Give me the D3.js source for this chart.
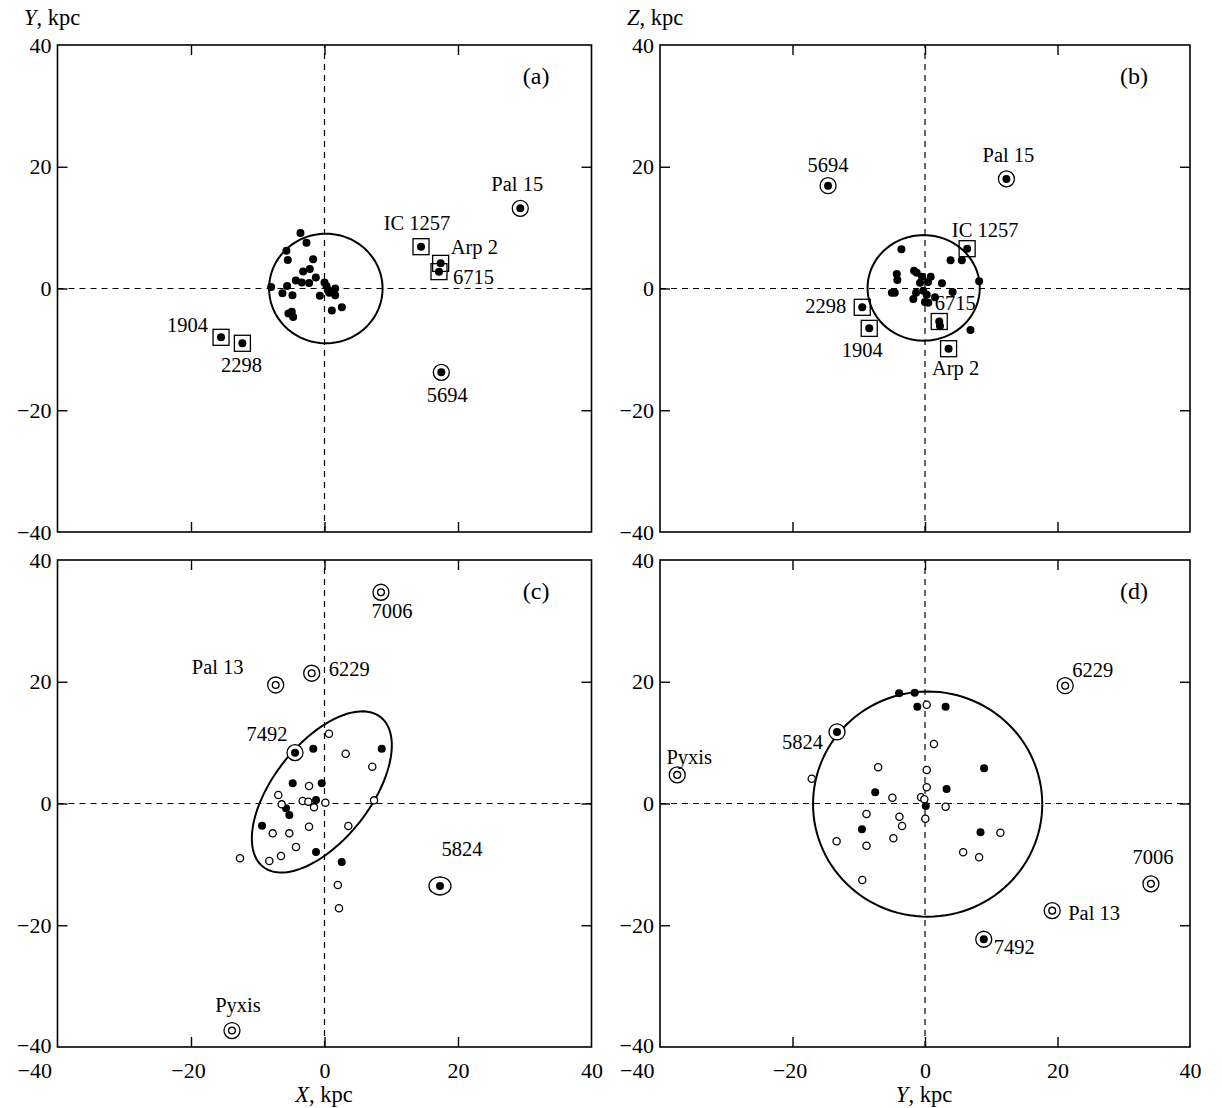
<!DOCTYPE html>
<html>
<head>
<meta charset="utf-8">
<script src="https://cdn.jsdelivr.net/npm/d3@7"></script>
<style>
  html, body { margin: 0; padding: 0; background: #fff; }
  svg { display: block; }
  text { font-family: "Liberation Serif", "Times New Roman", serif; fill: #000; }
</style>
</head>
<body>
<svg id="chart" width="1222" height="1108"></svg>
<script>
// ---------- data (kpc) ----------
const tickValues = [-40, -20, 0, 20, 40];

// (a) X–Y plane, first sample
const aFilled = [
  [-3.6, 9.1], [-2.7, 7.5], [-5.7, 6.2], [-5.5, 4.7], [-1.7, 4.8], [-3.2, 2.8],
  [-2.2, 3.2], [-1.3, 1.8], [-4.3, 1.3], [-3.4, 1.0], [-2.3, 0.9], [-5.6, 0.4],
  [-8.0, 0.25], [-6.3, -0.8], [-4.8, -1.1], [0.0, 1.0], [0.3, 0.4], [1.6, 0.0],
  [-0.7, -1.2], [0.7, -0.7], [1.6, -1.1], [1.1, -3.6], [2.6, -3.1], [-5.4, -4.1],
  [-4.9, -3.8], [-4.7, -4.7], [0.5, -0.25]
];
const aBoxed = [
  { name: "IC 1257", x: 14.46, y: 6.87 }, { name: "Arp 2", x: 17.4, y: 4.13 },
  { name: "6715", x: 17.15, y: 2.77 }, { name: "1904", x: -15.5, y: -8.02 },
  { name: "2298", x: -12.3, y: -9.0 }
];
const aRinged = [
  { name: "Pal 15", x: 29.33, y: 13.17 }, { name: "5694", x: 17.5, y: -13.77 }
];
const aOutline = { cx: 0.2, cy: 0.0, u: [8.5, 0], v: [0, 9.0] };

// (b) Y–Z plane, first sample
const bFilled = [
  [-3.56, 6.44], [3.86, 4.63], [5.56, 4.63], [8.17, 1.18], [-4.26, 2.38], [-4.17, 1.40],
  [-1.65, 2.92], [-1.25, 2.60], [-0.45, 1.94], [0.86, 1.94], [-0.75, 0.95], [0.45, 1.07],
  [2.56, 0.85], [-5.01, -0.69], [-4.56, -0.69], [-1.35, -0.69], [-0.26, -0.36], [-1.76, -1.72],
  [0.26, -1.02], [1.50, -1.45], [4.17, -0.57], [0.0, -2.22], [0.5, -2.33], [6.87, -6.82],
  [2.26, -6.16]
];
const bBoxed = [
  { name: "IC 1257", x: 6.36, y: 6.54 }, { name: "6715", x: 2.15, y: -5.42 },
  { name: "Arp 2", x: 3.56, y: -9.89 }, { name: "2298", x: -9.47, y: -3.09 },
  { name: "1904", x: -8.42, y: -6.55 }
];
const bRinged = [
  { name: "5694", x: -14.63, y: 16.89 }, { name: "Pal 15", x: 12.29, y: 18.0 }
];
const bOutline = { cx: -0.2, cy: 0.1, u: [8.47, 0], v: [0, 8.67] };

// (c) X–Y plane, second sample
const cFilled = [
  [-1.68, 9.0], [8.57, 9.0], [-4.76, 3.32], [-0.42, 3.32], [-1.27, 0.57],
  [-5.77, -0.79], [-5.27, -1.89], [-9.36, -3.65], [-1.27, -7.97], [2.58, -9.61]
];
const cOpen = [
  [0.67, 11.47], [3.17, 8.18], [7.16, 6.05], [-2.32, 2.87], [-6.92, 1.40], [-6.41, -0.14],
  [-3.27, 0.41], [-2.42, 0.30], [-1.57, -0.63], [0.13, 0.14], [7.42, 0.52], [-2.32, -3.81],
  [3.57, -3.70], [-7.76, -4.9], [-5.27, -4.9], [-4.27, -7.15], [-12.66, -9.0], [-6.52, -8.62],
  [-8.27, -9.45], [2.0, -13.4], [2.17, -17.2]
];
const cRingedFilled = [
  { name: "7492", x: -4.42, y: 8.35 }, { name: "5824", x: 17.3, y: -13.55 }
];
const cRingedOpen = [
  { name: "7006", x: 8.46, y: 34.7 }, { name: "6229", x: -1.92, y: 21.4 },
  { name: "Pal 13", x: -7.31, y: 19.47 }, { name: "Pyxis", x: -13.86, y: -37.3 }
];
const cOutline = { cx: -0.4, cy: 1.9, u: [8.8, 12.3], v: [5.7, -4.9] };

// (d) Y–Z plane, second sample
const dFilled = [
  [-3.91, 18.1], [-1.55, 18.2], [-1.16, 15.9], [3.11, 15.9], [8.92, 5.78],
  [3.26, 2.38], [-7.52, 1.84], [0.11, -0.41], [-9.52, -4.24], [8.38, -4.73]
];
const dOpen = [
  [0.26, 16.23], [1.35, 9.77], [-7.07, 5.95], [0.26, 5.5], [0.26, 2.66], [-17.1, 4.07],
  [-4.92, 0.95], [-0.6, 1.02], [-0.1, 0.69], [3.11, -0.53], [-8.83, -1.72], [-3.86, -2.17],
  [-3.46, -3.70], [0.05, -2.5], [-13.34, -6.21], [-8.83, -6.93], [-4.77, -5.72], [11.38, -4.8],
  [5.76, -8.02], [8.17, -8.84], [-9.47, -12.57]
];
const dRingedFilled = [
  { name: "5824", x: -13.28, y: 11.75 }, { name: "7492", x: 8.87, y: -22.3 }
];
const dRingedOpen = [
  { name: "6229", x: 21.16, y: 19.35 }, { name: "Pyxis", x: -37.4, y: 4.7 },
  { name: "7006", x: 34.1, y: -13.2 }, { name: "Pal 13", x: 19.2, y: -17.6 }
];
const dOutline = { cx: 0.4, cy: -0.1, u: [17.3, 0], v: [0, 18.5] };

// ---------- label placement (pixel offsets from the mark) ----------
const labelPlacement = {
  a: {
    "Pal 15": [-3, -24, "middle"], "IC 1257": [-4, -24, "middle"], "Arp 2": [10, -16, "start"],
    "6715": [14, 5, "start"], "5694": [6, 23, "middle"], "1904": [-13, -12, "end"],
    "2298": [-1, 22, "middle"]
  },
  b: {
    "5694": [0, -21, "middle"], "Pal 15": [2, -24, "middle"], "IC 1257": [18, -19, "middle"],
    "2298": [-16, -1, "end"], "1904": [-7, 22, "middle"], "6715": [16, -18, "middle"],
    "Arp 2": [7, 19, "middle"]
  },
  c: {
    "7006": [11, 19, "middle"], "6229": [17, -4, "start"], "Pal 13": [-58, -18, "middle"],
    "7492": [-28, -19, "middle"], "5824": [22, -37, "middle"], "Pyxis": [6, -26, "middle"]
  },
  d: {
    "6229": [7, -16, "start"], "5824": [-14, 10, "end"], "Pyxis": [12, -18, "middle"],
    "7006": [2, -27, "middle"], "Pal 13": [16, 2, "start"], "7492": [10, 8, "start"]
  }
};
const ringSize = { c: { "5824": [11, 9] } };

// ---------- layout ----------
const svg = d3.select("#chart");
const xLeft = d3.scaleLinear().domain([-40, 40]).range([57.5, 591.5]);
const xRight = d3.scaleLinear().domain([-40, 40]).range([660, 1190]);
const yTop = d3.scaleLinear().domain([-40, 40]).range([532, 45]);
const yBottom = d3.scaleLinear().domain([-40, 40]).range([1047, 560]);

const TICK_FONT = 22, TITLE_FONT = 22.5, LETTER_FONT = 24, NOTE_FONT = 20.5;

function drawPanel(id, x, y, opts) {
  const g = svg.append("g").attr("class", "panel-" + id);
  const [x0, x1] = x.range();
  const [y0, y1] = y.range(); // y0 bottom, y1 top

  // zero lines
  g.append("line").attr("x1", x0).attr("x2", x1).attr("y1", y(0)).attr("y2", y(0))
    .attr("stroke", "#000").attr("stroke-width", 1.2).attr("stroke-dasharray", "6,5");
  g.append("line").attr("x1", x(0)).attr("x2", x(0)).attr("y1", y0).attr("y2", y1)
    .attr("stroke", "#000").attr("stroke-width", 1.2).attr("stroke-dasharray", "6,5");

  // inward ticks on all four sides
  const inner = [-20, 0, 20];
  const fmt = d3.format("");
  const styleAxis = sel => {
    sel.select(".domain").remove();
    sel.selectAll(".tick line").attr("stroke", "#000").attr("stroke-width", 1.4);
    sel.selectAll("text").attr("font-size", TICK_FONT).attr("font-family", "Liberation Serif");
  };
  g.append("g").attr("transform", `translate(0,${y1})`)
    .call(d3.axisTop(x).tickValues(inner).tickSize(-10).tickFormat("")).call(styleAxis);
  g.append("g").attr("transform", `translate(${x1},0)`)
    .call(d3.axisRight(y).tickValues(inner).tickSize(-10).tickFormat("")).call(styleAxis);

  // left axis with labels
  const left = g.append("g").attr("transform", `translate(${x0},0)`)
    .call(d3.axisLeft(y).tickValues(tickValues).tickSize(-10).tickPadding(6).tickFormat(fmt))
    .call(styleAxis);
  left.selectAll(".tick").filter(d => Math.abs(d) === 40).select("line").remove();
  if (opts.bottomLabels) left.selectAll(".tick").filter(d => d === -40).select("text").attr("y", -2);

  // bottom axis (labels only on lower panels)
  const bottom = g.append("g").attr("transform", `translate(0,${y0})`)
    .call(d3.axisBottom(x).tickValues(opts.bottomLabels ? tickValues : inner)
      .tickSize(-10).tickPadding(15).tickFormat(opts.bottomLabels ? fmt : ""))
    .call(styleAxis);
  if (opts.bottomLabels) {
    bottom.selectAll(".tick").filter(d => Math.abs(d) === 40).select("line").remove();
    bottom.selectAll(".tick text")
      .attr("text-anchor", d => d === -40 ? "end" : "middle")
      .attr("x", d => d === -40 ? -6 : (d < 0 ? -3 : 0));
  }

  // frame
  g.append("rect").attr("x", x0).attr("y", y1).attr("width", x1 - x0).attr("height", y0 - y1)
    .attr("fill", "none").attr("stroke", "#000").attr("stroke-width", 1.6);

  // panel letter
  g.append("text").attr("x", x1 - 42).attr("y", y1 + 31).attr("text-anchor", "end")
    .attr("dominant-baseline", "central").attr("font-size", LETTER_FONT).text(`(${id})`);

  // outline (circle / ellipse) traced through the scales
  const o = opts.outline;
  const ts = d3.range(0, 361, 3).map(a => a * Math.PI / 180);
  const line = d3.line()
    .x(t => x(o.cx + Math.cos(t) * o.u[0] + Math.sin(t) * o.v[0]))
    .y(t => y(o.cy + Math.cos(t) * o.u[1] + Math.sin(t) * o.v[1]));
  g.append("path").attr("d", line(ts)).attr("fill", "none")
    .attr("stroke", "#000").attr("stroke-width", 2);

  const marks = g.append("g");
  // plain filled points
  marks.selectAll("circle.f").data(opts.filled || []).join("circle").attr("class", "f")
    .attr("cx", d => x(d[0])).attr("cy", d => y(d[1])).attr("r", 4).attr("fill", "#000");
  // plain open points
  marks.selectAll("circle.o").data(opts.open || []).join("circle").attr("class", "o")
    .attr("cx", d => x(d[0])).attr("cy", d => y(d[1])).attr("r", 3.6)
    .attr("fill", "#fff").attr("stroke", "#000").attr("stroke-width", 1.3);

  // boxed filled points
  const boxes = marks.selectAll("g.box").data(opts.boxed || []).join("g").attr("class", "box")
    .attr("transform", d => `translate(${x(d.x)},${y(d.y)})`);
  boxes.append("rect").attr("x", -8).attr("y", -8).attr("width", 16).attr("height", 16)
    .attr("fill", "none").attr("stroke", "#000").attr("stroke-width", 1.3);
  boxes.append("circle").attr("r", 4).attr("fill", "#000");

  // ringed points
  const sizes = ringSize[id] || {};
  const ringed = [
    ...(opts.ringedFilled || []).map(d => ({ ...d, filled: true })),
    ...(opts.ringedOpen || []).map(d => ({ ...d, filled: false }))
  ];
  const rings = marks.selectAll("g.ring").data(ringed).join("g").attr("class", "ring")
    .attr("transform", d => `translate(${x(d.x)},${y(d.y)})`);
  rings.append("ellipse")
    .attr("rx", d => (sizes[d.name] || [8, 8])[0]).attr("ry", d => (sizes[d.name] || [8, 8])[1])
    .attr("fill", "#fff").attr("stroke", "#000").attr("stroke-width", 1.3);
  rings.append("circle").attr("r", d => d.filled ? 4 : 3.4)
    .attr("fill", d => d.filled ? "#000" : "#fff")
    .attr("stroke", "#000").attr("stroke-width", d => d.filled ? 0 : 1.3);

  // names
  const place = labelPlacement[id];
  const named = [...(opts.boxed || []), ...ringed];
  g.append("g").selectAll("text").data(named).join("text")
    .attr("x", d => x(d.x) + place[d.name][0])
    .attr("y", d => y(d.y) + place[d.name][1])
    .attr("text-anchor", d => place[d.name][2])
    .attr("dominant-baseline", "central")
    .attr("font-size", NOTE_FONT)
    .text(d => d.name);
}

drawPanel("a", xLeft, yTop, { filled: aFilled, boxed: aBoxed, ringedFilled: aRinged, outline: aOutline });
drawPanel("b", xRight, yTop, { filled: bFilled, boxed: bBoxed, ringedFilled: bRinged, outline: bOutline });
drawPanel("c", xLeft, yBottom, { filled: cFilled, open: cOpen, ringedFilled: cRingedFilled,
  ringedOpen: cRingedOpen, outline: cOutline, bottomLabels: true });
drawPanel("d", xRight, yBottom, { filled: dFilled, open: dOpen, ringedFilled: dRingedFilled,
  ringedOpen: dRingedOpen, outline: dOutline, bottomLabels: true });

// axis titles
function title(xPos, yPos, letter, anchor) {
  const t = svg.append("text").attr("x", xPos).attr("y", yPos).attr("text-anchor", anchor)
    .attr("font-size", TITLE_FONT);
  t.append("tspan").attr("font-style", "italic").text(letter);
  t.append("tspan").text(", kpc");
}
title(24, 25, "Y", "start");
title(627, 25, "Z", "start");
title(324, 1102, "X", "middle");
title(924, 1102, "Y", "middle");
</script>
</body>
</html>
